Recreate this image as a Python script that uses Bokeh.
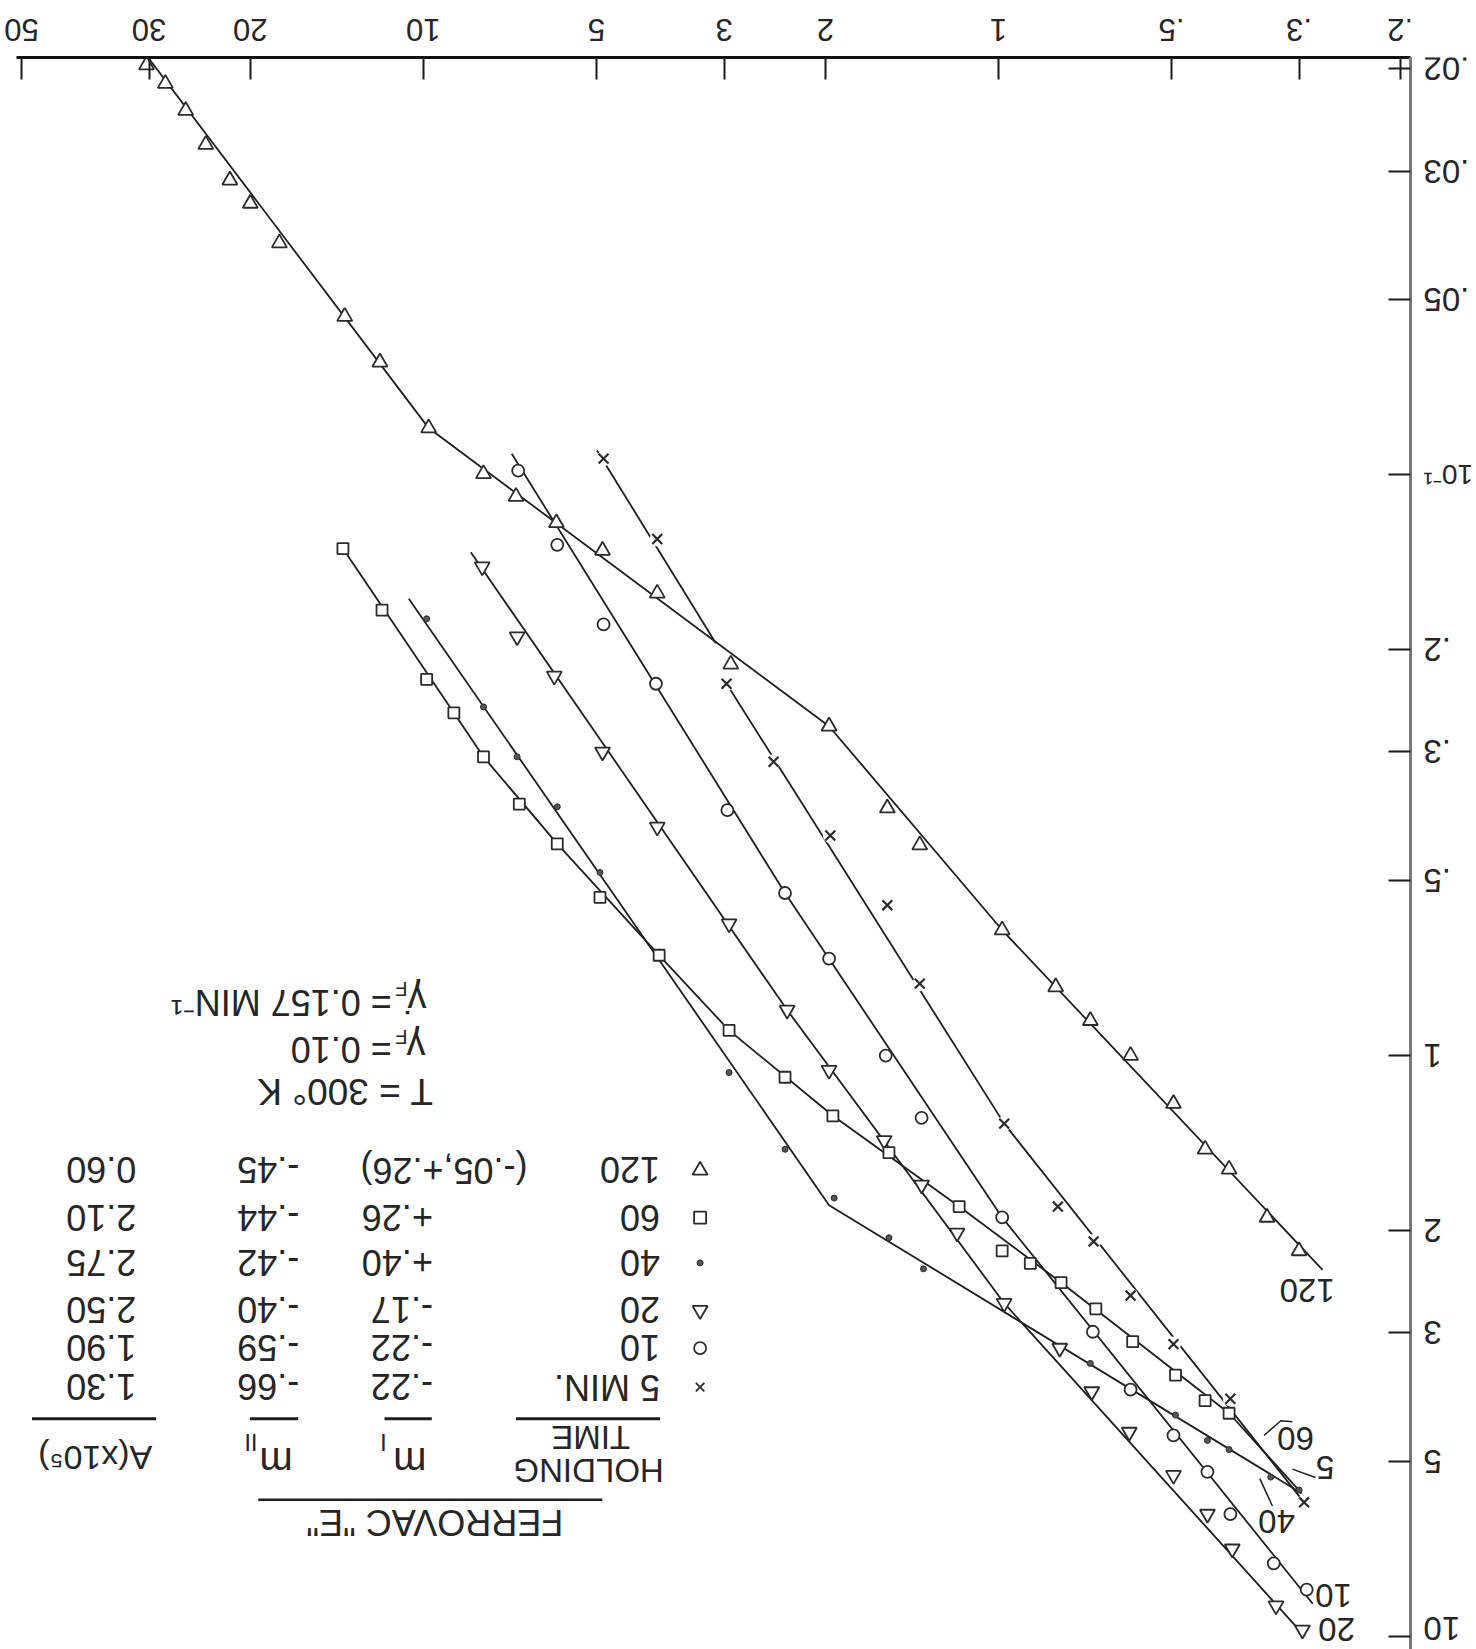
import math
from bokeh.plotting import figure
from bokeh.layouts import column, row
from bokeh.models import Range1d, FixedTicker, CustomJSTickFormatter
from bokeh.core.properties import value
from bokeh.embed import file_html
from bokeh.resources import INLINE

# ---------------- data ----------------
x_ticks = [0.2, 0.3, 0.5, 1, 2, 3, 5, 10, 20, 30, 50]
x_tick_labels = [".2", ".3", ".5", "1", "2", "3", "5", "10", "20", "30", "50"]
y_ticks = [0.02, 0.03, 0.05, 0.1, 0.2, 0.3, 0.5, 1, 2, 3, 5, 10]
y_tick_labels = [".02", ".03", ".05", "10⁻¹", ".2", ".3", ".5", "1", "2", "3", "5", "10"]

# holding time 120 min (triangles)
x120 = [30.3, 28.1, 25.9, 23.9, 21.7, 20.0, 17.8, 13.7, 11.9, 9.79, 7.86, 6.90, 5.87, 4.88,
        3.92, 2.92, 1.97, 1.56, 1.37, 0.985, 0.795, 0.692, 0.589, 0.496, 0.437, 0.397, 0.341, 0.300]
y120 = [0.0197, 0.0212, 0.0236, 0.0270, 0.0311, 0.0341, 0.0399, 0.0534, 0.0640, 0.0831, 0.0996,
        0.109, 0.121, 0.135, 0.160, 0.212, 0.271, 0.375, 0.434, 0.608, 0.762, 0.871, 1.00, 1.21,
        1.45, 1.57, 1.90, 2.17]
fit120_x = [30.5, 9.79, 1.97, 0.985, 0.273]
fit120_y = [0.0188, 0.0831, 0.271, 0.608, 2.34]

# 10 min (open circles)
x10 = [6.84, 5.85, 4.86, 3.94, 2.96, 2.35, 1.97, 1.57, 1.36, 0.985, 0.685, 0.589, 0.496,
       0.433, 0.395, 0.332, 0.291]
y10 = [0.0984, 0.132, 0.181, 0.229, 0.378, 0.525, 0.681, 1.00, 1.28, 1.90, 2.99, 3.76, 4.51,
       5.21, 6.16, 7.49, 8.31]
fit10_x = [7.02, 2.35, 0.985, 0.284]
fit10_y = [0.0920, 0.525, 1.90, 8.79]

# 5 min (x)
x5 = [4.86, 3.92, 2.97, 2.46, 1.96, 1.56, 1.37, 0.977, 0.788, 0.683, 0.589, 0.496, 0.395, 0.294]
y5 = [0.0938, 0.129, 0.229, 0.312, 0.418, 0.551, 0.752, 1.31, 1.82, 2.09, 2.59, 3.14, 3.90, 5.88]
fit5a_x = [4.99, 3.10]
fit5a_y = [0.0908, 0.195]
fit5b_x = [2.97, 0.977, 0.294]
fit5b_y = [0.229, 1.31, 5.88]

# 20 min (inverted triangles as printed)
x20 = [7.90, 6.87, 5.92, 4.88, 3.92, 2.94, 2.33, 1.97, 1.58, 1.36, 1.18, 0.977, 0.782, 0.688,
       0.592, 0.496, 0.433, 0.392, 0.329, 0.296]
y20 = [0.144, 0.190, 0.222, 0.300, 0.404, 0.593, 0.835, 1.06, 1.40, 1.67, 2.02, 2.67, 3.19,
       3.79, 4.45, 5.28, 6.16, 7.07, 8.86, 9.75]
fit20_x = [8.27, 2.33, 0.977, 0.293]
fit20_y = [0.136, 0.835, 2.67, 10.0]

# 40 min (small dots)
x40 = [9.87, 7.86, 6.87, 5.85, 4.93, 2.94, 2.35, 1.93, 1.55, 1.35, 0.692, 0.492, 0.433, 0.397,
       0.336, 0.300]
y40 = [0.177, 0.251, 0.306, 0.373, 0.484, 1.07, 1.45, 1.76, 2.06, 2.33, 3.39, 4.16, 4.60, 4.77,
       5.32, 5.60]
fit40_x = [10.6, 1.97, 0.297]
fit40_y = [0.1635, 1.81, 5.67]

# 60 min (squares)
x60 = [13.8, 11.8, 9.87, 8.85, 7.86, 6.81, 5.85, 4.93, 3.89, 2.94, 2.35, 1.94, 1.55, 1.17,
       0.985, 0.880, 0.778, 0.677, 0.584, 0.492, 0.437, 0.397]
y60 = [0.134, 0.171, 0.225, 0.257, 0.306, 0.369, 0.432, 0.534, 0.672, 0.905, 1.09, 1.27, 1.47,
       1.82, 2.17, 2.28, 2.46, 2.73, 3.11, 3.55, 3.93, 4.13]
fit60_x = [13.8, 7.86, 5.85, 3.89, 2.94, 1.94, 1.17, 0.778, 0.397, 0.297]
fit60_y = [0.134, 0.306, 0.432, 0.672, 0.905, 1.27, 1.82, 2.46, 4.13, 5.67]

# table
hold_times = ["5 MIN.", "10", "20", "40", "60", "120"]
m1_vals = ["-.22", "-.22", "-.17", "+.40", "+.26", "(-.05,+.26)"]
m2_vals = ["-.66", "-.59", "-.40", "-.42", "-.44", "-.45"]
a_vals = ["1.30", "1.90", "2.50", "2.75", "2.10", "0.60"]
row_markers = ["x", "circle", "inverted_triangle", "dot", "square", "triangle"]

# ---------------- layout geometry (page pixels) ----------------
FRAME_L, FRAME_T = 16, 57
FW, FH = 1394, 1592
GAP = 6                     # room kept for the axis lines
TOP_H = FRAME_T - GAP       # strip with the upside-down top tick labels
RIGHT_W = 56                # strip with the upside-down right tick labels
XL, XR = 51.0, 0.192        # values at the left / right frame edge
YT = 0.01912                # value at the top frame edge
X_DEC = FW / (math.log10(XL) - math.log10(XR))      # pixels per decade
Y_DEC = 580.75
YB = 10 ** (math.log10(YT) + FH / Y_DEC)            # value at the bottom frame edge

LINE = "#1e1e1e"
MK = "#2b2b2b"
TXT = "#262626"
FONT = "Liberation Sans"

common = dict(toolbar_location=None, output_backend="svg",
              background_fill_color="white", border_fill_color="white")

p = figure(x_axis_type="log", y_axis_type="log",
           x_range=Range1d(XL, XR), y_range=Range1d(YB, YT),
           frame_width=FW, frame_height=FH,
           min_border_left=FRAME_L, min_border_right=GAP, min_border_top=GAP, min_border_bottom=0,
           x_axis_location="above", y_axis_location="right", **common)
p.outline_line_color = None
p.grid.visible = False

blank = CustomJSTickFormatter(code="return '';")
xa = p.xaxis[0]
ya = p.yaxis[0]
xa.ticker = FixedTicker(ticks=x_ticks, minor_ticks=[])
ya.ticker = FixedTicker(ticks=y_ticks, minor_ticks=[])
for ax in (xa, ya):
    ax.formatter = blank
    ax.major_label_text_font_size = "0px"
    ax.major_label_standoff = 0
    ax.major_tick_in = 22
    ax.major_tick_out = 0
    ax.minor_tick_in = 0
    ax.minor_tick_out = 0
    ax.major_tick_line_width = 2
    ax.major_tick_line_color = "#1a1a1a"
xa.axis_line_width = 3
xa.axis_line_color = "#111111"
ya.axis_line_width = 3
ya.axis_line_color = "#7a7a7a"

# fitted curves
for fx, fy in [(fit120_x, fit120_y), (fit10_x, fit10_y), (fit5a_x, fit5a_y), (fit5b_x, fit5b_y),
               (fit20_x, fit20_y), (fit40_x, fit40_y), (fit60_x, fit60_y)]:
    p.line(fx, fy, line_color=LINE, line_width=1.8)

# small gaps in the 5-min line at its markers
p.scatter(x5, y5, marker="circle", size=15, fill_color="white", line_color=None)

# markers
p.scatter(x120, y120, marker="triangle", size=15, fill_color="white", line_color=MK, line_width=1.8)
p.scatter(x10, y10, marker="circle", size=12, fill_color="white", line_color=MK, line_width=1.8)
p.scatter(x5, y5, marker="x", size=14, line_color=MK, line_width=2.2)
p.scatter(x20, y20, marker="inverted_triangle", size=15, fill_color="white", line_color=MK, line_width=1.8)
p.scatter(x40, y40, marker="circle", size=6, fill_color="#555555", line_color=MK, line_width=1)
p.scatter(x60, y60, marker="square", size=11, fill_color="white", line_color=MK, line_width=1.8)

# ---------------- tick-label strips (labels printed upside down) ----------------
XL_TOP = 10 ** (math.log10(XL) + FRAME_L / X_DEC)   # top strip starts at the page edge
top = figure(x_axis_type="log", x_range=Range1d(XL_TOP, XR), y_range=Range1d(0, TOP_H),
             frame_width=FRAME_L + FW, frame_height=TOP_H,
             min_border_left=0, min_border_right=GAP + RIGHT_W, min_border_top=0, min_border_bottom=0,
             x_axis_location=None, y_axis_location=None, **common)
top.outline_line_color = None
top.grid.visible = False
top.text(x=x_ticks, y=[TOP_H - 29.5] * len(x_ticks), text=x_tick_labels, angle=math.pi,
         text_align="center", text_baseline="middle", text_font=value(FONT),
         text_font_size="31px", text_color=TXT)

right = figure(y_axis_type="log", y_range=p.y_range, x_range=Range1d(0, RIGHT_W),
               frame_width=RIGHT_W, frame_height=FH,
               min_border_left=0, min_border_right=0, min_border_top=GAP, min_border_bottom=0,
               x_axis_location=None, y_axis_location=None, **common)
right.outline_line_color = None
right.grid.visible = False
lab_y = list(y_ticks)
lab_y[-1] = 9.7   # keep the lowest label inside the page
lab_size = ["28px" if "⁻" in s else "33px" for s in y_tick_labels]
right.text(x=[7] * len(y_ticks), y=lab_y, text=y_tick_labels, angle=math.pi,
           text_align="right", text_baseline="middle", text_font=value(FONT),
           text_font_size=lab_size, text_color=TXT)

# ---------------- annotations (positions in reference-picture pixels) ----------------
LX0, LX1 = math.log10(XL), math.log10(XR)
LY0, LY1 = math.log10(YT), math.log10(YB)
S = 1476 / 1403


def at(xd, yd):
    fx = (xd * S - FRAME_L) / FW
    fy = (yd * S - FRAME_T) / FH
    return 10 ** (LX0 + fx * (LX1 - LX0)), 10 ** (LY0 + fy * (LY1 - LY0))


def txt(xd, yd, s, size=35, align="center"):
    x, y = at(xd, yd)
    p.text(x=[x], y=[y], text=[s], angle=math.pi, text_align=align, text_baseline="middle",
           text_font=value(FONT), text_font_size=f"{size}px", text_color=TXT)


def seg(points, width=2.0):
    xs, ys = zip(*[at(a, b) for a, b in points])
    p.line(list(xs), list(ys), line_color=LINE, line_width=width)


def mark(xd, yd, marker, size, fill="white"):
    x, y = at(xd, yd)
    if marker == "dot":
        p.scatter([x], [y], marker="circle", size=6, fill_color="#555555", line_color=MK)
    else:
        p.scatter([x], [y], marker=marker, size=size, fill_color=fill, line_color=MK, line_width=1.8)


# table title and headers
txt(408, 1447, 'FERROVAC  "E"', 36)
seg([(245, 1425), (572, 1425)], 2.5)
txt(559, 1397, "HOLDING", 33)
txt(561, 1366, "TIME", 33)
txt(389, 1389, "m", 40)
txt(364, 1371, "I", 24)
txt(262, 1389, "m", 40)
txt(238, 1371, "II", 24)
txt(90, 1385, "A(x10⁵)", 34)
for a, b in [(490, 627), (365, 410), (237, 283), (30, 148)]:
    seg([(a, 1348), (b, 1348)], 3)

row_y = [1318, 1281, 1245, 1200, 1157, 1112]
for i, yd in enumerate(row_y):
    mk = row_markers[i]
    mark(665, yd, mk, 15 if "triangle" in mk else 12)
    txt(627, yd, hold_times[i], 36, "left")
    txt(501 if m1_vals[i].startswith("(") else 411, yd, m1_vals[i], 36, "left")
    txt(284, yd, m2_vals[i], 36, "left")
    txt(129, yd, a_vals[i], 36, "left")

# conditions
txt(411, 1037, "T = 300° K", 37, "left")
txt(404, 995, "γ", 38, "left")
txt(381, 985, "F", 20)
txt(372, 997, "= 0.10", 36, "left")
txt(405, 950, "γ̇", 38, "left")
txt(381, 940, "F", 20)
txt(372, 952, "= 0.157 MIN⁻¹", 36, "left")

# curve labels
txt(1242, 1226, "120", 33)
txt(1259, 1394, "5", 33)
txt(1231, 1367, "60", 33)
txt(1213, 1446, "40", 33)
txt(1267, 1516, "10", 33)
txt(1270, 1548, "20", 33)
seg([(1250, 1404), (1228, 1396)], 1.5)
seg([(1209, 1431), (1197, 1405)], 1.5)
seg([(1228, 1351), (1217, 1350), (1201, 1364)], 1.5)

layout = column(top, row(p, right))
open("out.html", "w").write(file_html(layout, INLINE))
